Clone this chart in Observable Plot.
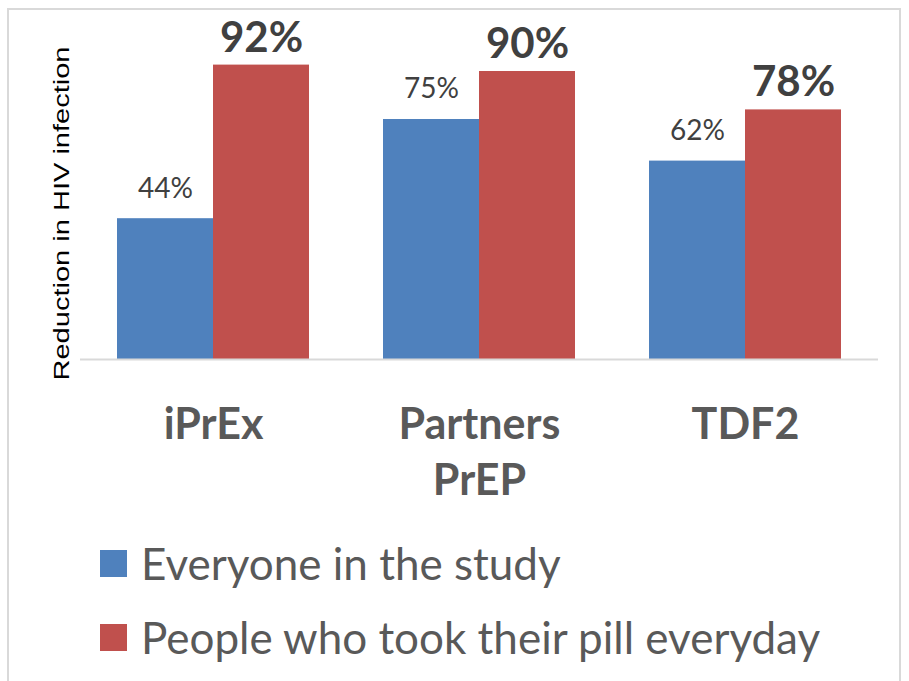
<!DOCTYPE html>
<html>
<head>
<meta charset="utf-8">
<script src="https://cdn.jsdelivr.net/npm/d3@7"></script>
<script src="https://cdn.jsdelivr.net/npm/@observablehq/plot@0.6"></script>
<style>
  html, body { margin: 0; padding: 0; background: #fff; width: 909px; height: 681px; overflow: hidden; }
  #frame { position: absolute; left: 7px; top: 8px; width: 894px; height: 700px; border: 2px solid #d9d9d9; box-sizing: border-box; }
  #chart { position: absolute; left: 0; top: 0; }
  #legend { position: absolute; left: 0; top: 526px; font-family: Lato, "Open Sans", sans-serif; color: #595959; font-size: 44px; }
  .row { display: flex; align-items: center; height: 74px; padding-left: 100px; }
  .sw { width: 27px; height: 27px; margin-right: 14px; flex: none; }
</style>
</head>
<body>
<div id="frame"></div>
<div id="chart"></div>
<div id="legend"></div>
<script>
const studies = ["iPrEx", "Partners PrEP", "TDF2"];
const studyLabels = ["iPrEx", "Partners\nPrEP", "TDF2"];
const series = ["Everyone in the study", "People who took their pill everyday"];
const everyone = [44, 75, 62];
const adherent = [92, 90, 78];
const colors = ["#4F81BD", "#C0504D"];
const yLabel = "Reduction in HIV infection";

const data = studies.flatMap((s, i) => [
  {study: s, group: series[0], value: everyone[i]},
  {study: s, group: series[1], value: adherent[i]}
]);
const labelRows = studies.map((s, i) => ({study: s, label: studyLabels[i]}));

const chart = Plot.plot({
  width: 909,
  height: 520,
  marginLeft: 80,
  marginRight: 31,
  marginTop: 39,
  marginBottom: 161,
  fx: {domain: studies, paddingInner: 74 / 266, paddingOuter: 37 / 266, axis: null, label: null},
  x: {domain: series, padding: 0, axis: null},
  y: {domain: [0, 100], axis: null},
  color: {domain: series, range: colors},
  marks: [
    Plot.barY(data, {fx: "study", x: "group", y: "value", fill: "group"}),
    Plot.ruleY([0], {stroke: "#d9d9d9", strokeWidth: 2, insetLeft: -37, insetRight: -37}),
    Plot.text(data.filter(d => d.group === series[0]), {
      fx: "study", x: "group", y: "value", text: d => d.value + "%",
      lineAnchor: "middle", dy: -30, fontSize: 28, fill: "#404040",
      fontFamily: "Lato, 'Open Sans', sans-serif"
    }),
    Plot.text(data.filter(d => d.group === series[1]), {
      fx: "study", x: "group", y: "value", text: d => d.value + "%",
      lineAnchor: "middle", dy: -27, fontSize: 42, fontWeight: "bold", fill: "#404040",
      fontFamily: "Lato, 'Open Sans', sans-serif"
    }),
    Plot.text(labelRows, {
      fx: "study", text: "label", frameAnchor: "bottom", lineAnchor: "top", dy: 40,
      lineHeight: 1.3, fontSize: 43, fontWeight: "bold", fill: "#595959",
      fontFamily: "Lato, 'Open Sans', sans-serif"
    }),
    Plot.text([studies[0]], {
      fx: d => d, text: () => yLabel, frameAnchor: "left", rotate: -90,
      textAnchor: "middle", lineAnchor: "middle", dx: -56, dy: 14, fontSize: 22, fill: "#000",
      fontFamily: "'Liberation Sans', Arial, sans-serif", className: "ylab"
    })
  ]
});
document.getElementById("chart").appendChild(chart);
d3.select(chart).selectAll(".ylab text")
  .attr("textLength", 334).attr("lengthAdjust", "spacingAndGlyphs");

const legend = d3.select("#legend");
series.forEach((s, i) => {
  const row = legend.append("div").attr("class", "row");
  row.append("div").attr("class", "sw").style("background", colors[i]);
  row.append("span").text(s);
});
</script>
</body>
</html>
